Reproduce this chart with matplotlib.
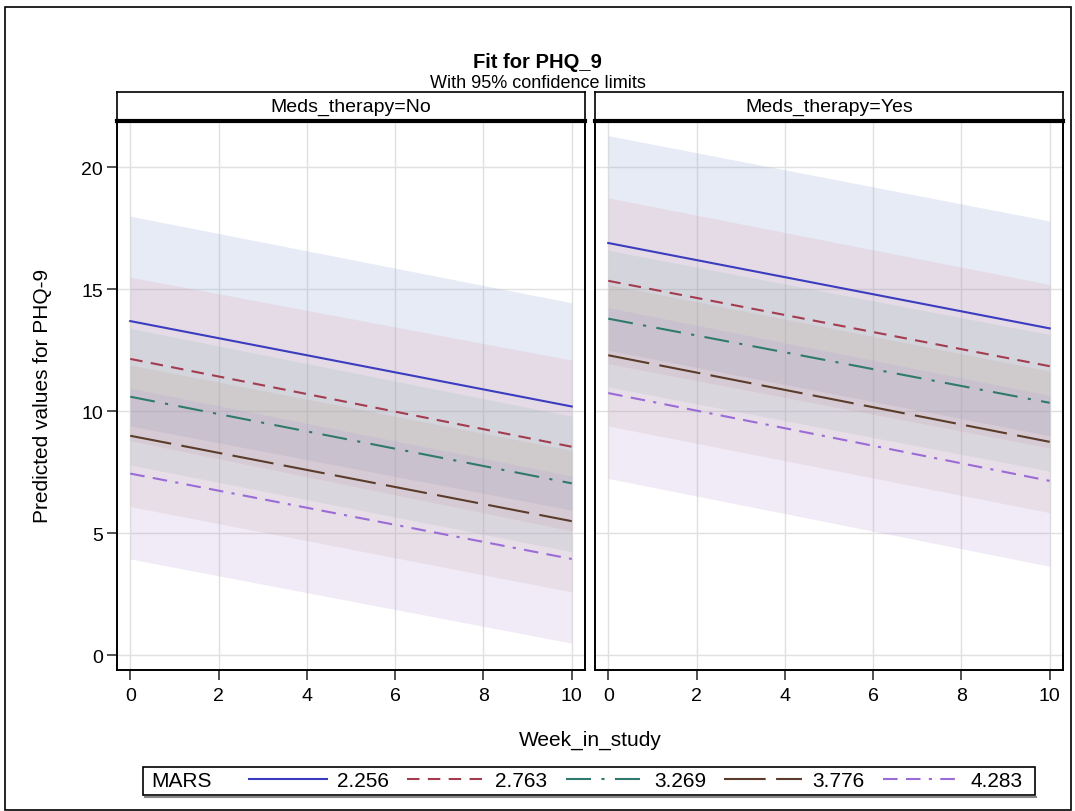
import numpy as np
import matplotlib
matplotlib.use("Agg")
import matplotlib.pyplot as plt
from matplotlib.patches import Rectangle
from matplotlib.lines import Line2D

plt.rcParams['font.family'] = ['Liberation Sans', 'DejaVu Sans']

# values (week 0 and week 10 of each fitted line)
weeks = [0, 10]
mars_levels = ['2.256', '2.763', '3.269', '3.776', '4.283']
panels = ['Meds_therapy=No', 'Meds_therapy=Yes']

no_pred_start = [13.7, 12.15, 10.6, 9.0, 7.45]
no_pred_end = [10.2, 8.55, 7.05, 5.5, 3.95]
no_upper_start = [18.0, 15.5, 13.4, 11.9, 10.95]
no_upper_end = [14.45, 12.1, 9.8, 8.4, 7.35]
no_lower_start = [9.4, 8.8, 7.8, 6.1, 3.95]
no_lower_end = [5.95, 5.1, 4.25, 2.6, 0.5]

yes_pred_start = [16.9, 15.35, 13.8, 12.3, 10.75]
yes_pred_end = [13.4, 11.85, 10.35, 8.75, 7.15]
yes_upper_start = [21.3, 18.75, 16.6, 15.2, 14.25]
yes_upper_end = [17.8, 15.2, 13.15, 11.65, 10.65]
yes_lower_start = [12.5, 11.95, 11.0, 9.4, 7.25]
yes_lower_end = [9.0, 8.5, 7.55, 5.85, 3.65]

line_colors = ['#3c3cc0', '#a33c4f', '#2f7a6d', '#5b3c2a', '#9b6bd6']
fill_colors = ['#8ea6d8', '#d9828f', '#7fb0a8', '#b39a7a', '#b99ad9']
fill_alpha = [0.22, 0.15, 0.15, 0.15, 0.2]
dashes = [None, (6, 4), (12, 5, 1.5, 5), (20, 5), (7, 4, 7, 4, 1.5, 4)]

W, H = 1075, 812
fig = plt.figure(figsize=(W / 100, H / 100), dpi=100)

# outer frame
fig.add_artist(Rectangle((5 / W, 1 - 811 / H), 1066 / W, 803 / H, transform=fig.transFigure,
                         fill=False, ec='black', lw=1.2))

fig.text(0.5, 1 - 63 / H, 'Fit for PHQ_9', ha='center', va='center', fontsize=14.5, fontweight='bold')
fig.text(0.5, 1 - 84 / H, 'With 95% confidence limits', ha='center', va='center', fontsize=13)

data = [
    (no_pred_start, no_pred_end, no_upper_start, no_upper_end, no_lower_start, no_lower_end),
    (yes_pred_start, yes_pred_end, yes_upper_start, yes_upper_end, yes_lower_start, yes_lower_end),
]
lefts = [117, 595]
pw = 468
top, bottom, strip_top = 122, 671, 93

handles = []
for p in range(2):
    ax = fig.add_axes([lefts[p] / W, 1 - bottom / H, pw / W, (bottom - top) / H])
    ps, pe, us, ue, ls, le = data[p]
    for i in range(5):
        ax.fill_between(weeks, [ls[i], le[i]], [us[i], ue[i]], color=fill_colors[i],
                        alpha=fill_alpha[i], lw=0)
    for i in range(5):
        ln, = ax.plot(weeks, [ps[i], pe[i]], color=line_colors[i], lw=1.5)
        if dashes[i] is not None:
            ln.set_dashes(dashes[i])
        if p == 0:
            handles.append(ln)
    ax.set_xlim(-0.3, 10.3)
    ax.set_ylim(-0.6, 21.9)
    ax.set_xticks([0, 2, 4, 6, 8, 10])
    ax.set_yticks([0, 5, 10, 15, 20])
    ax.grid(True, color='#e0e0e0', lw=1)
    ax.set_axisbelow(True)
    ax.tick_params(labelsize=14, length=7, width=1.2, color='#333333')
    ax.tick_params(axis='x', pad=5)
    ax.tick_params(axis='y', pad=3)
    if p == 1:
        ax.tick_params(axis='y', left=False, labelleft=False)
    for s in ax.spines.values():
        s.set_color('black')
        s.set_linewidth(1.4)

    sax = fig.add_axes([lefts[p] / W, 1 - top / H, pw / W, (top - strip_top) / H])
    sax.set_xticks([])
    sax.set_yticks([])
    for s in sax.spines.values():
        s.set_linewidth(1.2)
    sax.spines['bottom'].set_linewidth(3)
    sax.text(0.5, 0.52, panels[p], ha='center', va='center', fontsize=14, transform=sax.transAxes)

fig.text(43 / W, 1 - 396 / H, 'Predicted values for PHQ-9', rotation=90, ha='center', va='center', fontsize=15)
fig.text(590 / W, 1 - 740 / H, 'Week_in_study', ha='center', va='center', fontsize=15)

# legend box
bx0, bx1, by0, by1 = 143, 1035, 768, 796
fig.add_artist(Rectangle((bx0 / W, 1 - by1 / H), (bx1 - bx0) / W, (by1 - by0) / H,
                         transform=fig.transFigure, fill=False, ec='black', lw=1.2))
fig.add_artist(Line2D([(bx0 + 2) / W, (bx1 + 1) / W], [1 - (by1 + 2) / H, 1 - (by1 + 2) / H],
                      transform=fig.transFigure, color='#888888', lw=1.5))
fig.text(151 / W, 1 - 782 / H, 'MARS', ha='left', va='center', fontsize=15)
fig.legend(handles, mars_levels, ncol=5, frameon=False, loc='center',
           bbox_to_anchor=(636 / W, 1 - 782 / H), fontsize=15, handlelength=3.75,
           handletextpad=0.48, columnspacing=0.87, borderpad=0, borderaxespad=0)

fig.savefig('out.png', dpi=100)
